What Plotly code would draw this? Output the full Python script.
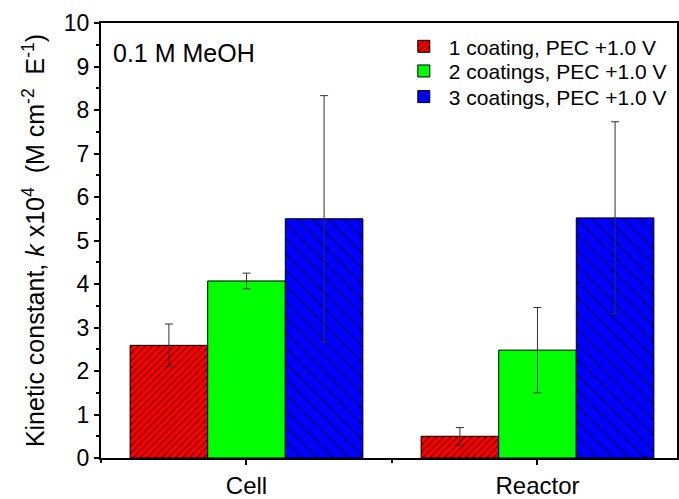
import plotly.graph_objects as go

categories = ["Cell", "Reactor"]
cat_pos = [1, 2]
series_names = ["1 coating, PEC +1.0 V", "2 coatings, PEC +1.0 V", "3 coatings, PEC +1.0 V"]
vals_1 = [2.59, 0.50]
errs_1 = [0.49, 0.20]
vals_2 = [4.07, 2.48]
errs_2 = [0.18, 0.98]
vals_3 = [5.50, 5.52]
errs_3 = [2.83, 2.21]
y_ticks = list(range(0, 11))

colors = ["#FF0000", "#00FF00", "#0000FF"]
patterns = [dict(shape="/", fgcolor="black", size=5, solidity=0.3),
            dict(shape="", fgcolor="black"),
            dict(shape="\\", fgcolor="black", size=11, solidity=0.14)]
values = [vals_1, vals_2, vals_3]
errors = [errs_1, errs_2, errs_3]
legend_ids = ["legend", "legend2", "legend3"]
legend_y = [0.9456, 0.8889, 0.830]

FONT = "Liberation Sans, Arial, sans-serif"

fig = go.Figure()
for name, v, e, c, p, lg in zip(series_names, values, errors, colors, patterns, legend_ids):
    fig.add_trace(go.Bar(
        x=cat_pos, y=v, name=name, legend=lg,
        marker=dict(color=c, line=dict(color="black", width=1), pattern=p),
        error_y=dict(type="data", array=e, visible=True, color="#333333", thickness=1, width=4),
    ))

legend_common = dict(x=0.517, xanchor="left", yanchor="middle",
                     font=dict(size=21, family=FONT), bgcolor="rgba(0,0,0,0)",
                     itemwidth=40)
layout_legends = {lg: dict(legend_common, y=ly) for lg, ly in zip(legend_ids, legend_y)}

title_text = ("Kinetic constant, <i>k</i>&nbsp;x10<sup>4</sup>&nbsp;&nbsp;(M cm<sup>-2</sup>"
              "&nbsp;&nbsp;E<sup>-1</sup>)")

fig.update_layout(
    width=679, height=499,
    margin=dict(l=101, r=0, t=23, b=35),
    plot_bgcolor="white", paper_bgcolor="white",
    barmode="group", bargap=0.2, bargroupgap=0,
    font=dict(family=FONT, color="black"),
    showlegend=True,
    xaxis=dict(range=[0.5, 0.5 + 578 / 292], tickvals=cat_pos, ticktext=categories,
               showline=True, linecolor="black", linewidth=2, mirror=True,
               ticks="outside", ticklen=5, tickwidth=2, tickcolor="black",
               tickfont=dict(size=24, family=FONT),
               minor=dict(tick0=0.5, dtick=1, ticks="outside", ticklen=3, tickwidth=1.5, tickcolor="black"),
               showgrid=False, zeroline=False),
    yaxis=dict(range=[0, 10], tickvals=y_ticks,
               showline=True, linecolor="black", linewidth=2, mirror=True,
               ticks="outside", ticklen=5, tickwidth=1.5, tickcolor="black",
               tickfont=dict(size=23, family=FONT),
               minor=dict(dtick=0.5, ticks="outside", ticklen=3, tickwidth=1.5, tickcolor="black"),
               showgrid=False, zeroline=False,
               title=dict(text=title_text, font=dict(size=25, family=FONT), standoff=12)),
    annotations=[dict(text="0.1 M MeOH", xref="paper", yref="paper", x=0.018, y=0.932,
                      xanchor="left", yanchor="middle", showarrow=False,
                      font=dict(size=25, family=FONT))],
    **layout_legends,
)

fig.write_html("out.html")
